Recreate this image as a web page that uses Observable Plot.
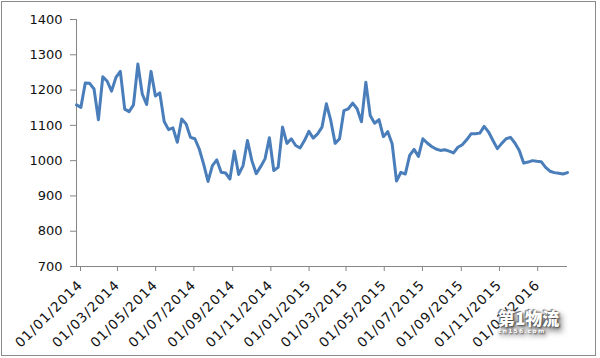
<!DOCTYPE html>
<html>
<head>
<meta charset="utf-8">
<script src="https://cdn.jsdelivr.net/npm/d3@7"></script>
<script src="https://cdn.jsdelivr.net/npm/@observablehq/plot@0.6"></script>
<style>
  html, body { margin: 0; padding: 0; background: #fff; }
  #wrap { position: relative; width: 600px; height: 358px; overflow: hidden; }
  #frame { position: absolute; left: 1px; top: 1px; width: 595px; height: 355px; border: 1px solid #8a8a8a; box-sizing: border-box; pointer-events: none; }
  #wm { position: absolute; left: 498px; top: 309px; font-family: "Noto Sans CJK SC", sans-serif; color: #fff; pointer-events: none; }
  #wm .big { font-size: 17px; font-weight: 900; line-height: 18px; letter-spacing: 0px; text-shadow: 1px 1px 2px #444, 3px 4px 6px #555, -1px -1px 1px #777; }
  #wm .small { font-family: "DejaVu Sans", sans-serif; font-size: 6px; font-weight: bold; line-height: 7px; letter-spacing: 1.2px; text-shadow: 1px 1px 2px #333, 2px 3px 5px #555; }
  g[aria-label="x-axis tick label"] text { letter-spacing: 1.1px; font-size: 13.5px; }
</style>
</head>
<body>
<div id="wrap"></div>
<script>
// ---- data ----
const firstWeek = "2014-01-01";
const weeklyValues = [
  1158, 1151, 1220, 1219, 1203, 1116, 1238, 1225, 1197, 1236,
  1253, 1146, 1139, 1158, 1274, 1189, 1159, 1253, 1183, 1192,
  1111, 1088, 1093, 1052, 1118, 1104, 1066, 1062, 1033, 990,
  941, 986, 1002, 967, 965, 948, 1027, 961, 986, 1057,
  1000, 963, 983, 1005, 1065, 972, 981, 1095, 1049, 1062,
  1043, 1036, 1057, 1083, 1064, 1076, 1095, 1161, 1114, 1049,
  1062, 1142, 1147, 1163, 1147, 1110, 1222, 1128, 1106, 1116,
  1068, 1082, 1048, 942, 967, 962, 1015, 1032, 1012, 1062,
  1050, 1040, 1033, 1029, 1031, 1027, 1022, 1038, 1045, 1059,
  1076, 1076, 1078, 1097, 1081, 1057, 1034, 1049, 1062, 1066,
  1050, 1029, 993, 996, 1000, 998, 997, 981, 970, 966,
  964, 962, 966
];
const yTicks = [700, 800, 900, 1000, 1100, 1200, 1300, 1400];
const xTickLabels = [
  "01/01/2014", "01/03/2014", "01/05/2014", "01/07/2014", "01/09/2014",
  "01/11/2014", "01/01/2015", "01/03/2015", "01/05/2015", "01/07/2015",
  "01/09/2015", "01/11/2015", "01/01/2016"
];
const watermarkMain = "第1物流";
const watermarkSub = "cn156.com";

// ---- build table ----
const parseLabel = d3.utcParse("%d/%m/%Y");
const fmtLabel = d3.utcFormat("%d/%m/%Y");
const start = d3.utcParse("%Y-%m-%d")(firstWeek);
const data = weeklyValues.map((v, i) => ({ date: d3.utcDay.offset(start, 7 * i), value: v }));
const xTicks = xTickLabels.map(parseLabel);
const xDomain = [data[0].date, data[data.length - 1].date];

const axisGray = "#868686";

const chart = Plot.plot({
  width: 600,
  height: 358,
  marginLeft: 76,
  marginRight: 33,
  marginTop: 19,
  marginBottom: 92,
  style: { fontFamily: "'DejaVu Sans', sans-serif", fontSize: "13px", color: "#111", background: "transparent" },
  x: { type: "utc", domain: xDomain },
  y: { domain: [700, 1400] },
  marks: [
    Plot.ruleX([xDomain[0]], { stroke: axisGray, strokeWidth: 1 }),
    Plot.ruleY([700], { stroke: axisGray, strokeWidth: 1 }),
    Plot.axisY(yTicks, { tickSize: 6, tickPadding: 8, stroke: axisGray, label: null, tickFormat: d => String(d) }),
    Plot.axisX(xTicks, { tickSize: 5, tickPadding: 11, tickRotate: -45, dx: 4, stroke: axisGray, label: null, tickFormat: fmtLabel }),
    Plot.line(data, { x: "date", y: "value", stroke: "#4a7ebb", strokeWidth: 3, strokeLinejoin: "round", strokeLinecap: "round" })
  ]
});

const wrap = document.getElementById("wrap");
wrap.appendChild(chart);
const frame = document.createElement("div");
frame.id = "frame";
wrap.appendChild(frame);
const wm = document.createElement("div");
wm.id = "wm";
wm.innerHTML = `<div class="big">${watermarkMain}</div><div class="small">${watermarkSub}</div>`;
wrap.appendChild(wm);
</script>
</body>
</html>
